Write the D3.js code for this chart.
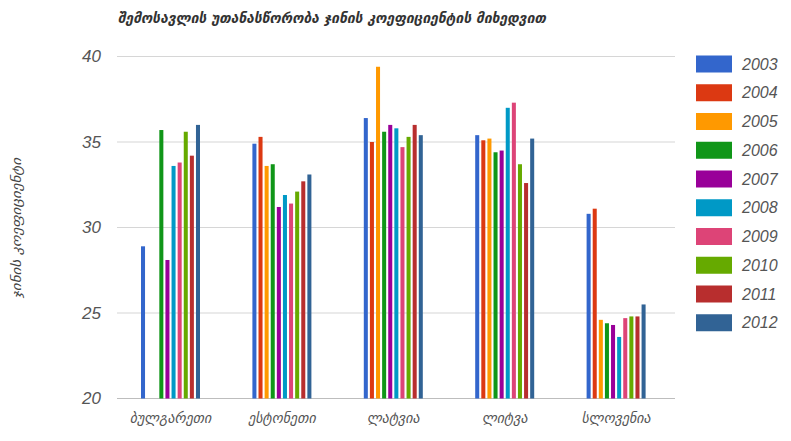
<!DOCTYPE html>
<html>
<head>
<meta charset="utf-8">
<script src="https://cdn.jsdelivr.net/npm/d3@7"></script>
<style>
  html, body { margin: 0; padding: 0; background: #fff; }
  svg { display: block; }
</style>
</head>
<body>
<svg id="chart" width="791" height="441"></svg>
<script>
// ---- data ----
const title = "შემოსავლის უთანასწორობა ჯინის კოეფიციენტის მიხედვით";
const yTitle = "ჯინის კოეფიციენტი";
const categories = ["ბულგარეთი", "ესტონეთი", "ლატვია", "ლიტვა", "სლოვენია"];
const years = ["2003", "2004", "2005", "2006", "2007", "2008", "2009", "2010", "2011", "2012"];
const colors = ["#3366cc", "#dc3912", "#ff9900", "#109618", "#990099", "#0099c6", "#dd4477", "#66aa00", "#b82e2e", "#316395"];
const yTicks = [20, 25, 30, 35, 40];
// values per category, one per year (null = no data)
const bulgaria  = [28.9, null, null, 35.7, 28.1, 33.6, 33.8, 35.6, 34.2, 36.0];
const estonia   = [34.9, 35.3, 33.6, 33.7, 31.2, 31.9, 31.4, 32.1, 32.7, 33.1];
const latvia    = [36.4, 35.0, 39.4, 35.6, 36.0, 35.8, 34.7, 35.3, 36.0, 35.4];
const lithuania = [35.4, 35.1, 35.2, 34.4, 34.5, 37.0, 37.3, 33.7, 32.6, 35.2];
const slovenia  = [30.8, 31.1, 24.6, 24.4, 24.3, 23.6, 24.7, 24.8, 24.8, 25.5];
const values = [bulgaria, estonia, latvia, lithuania, slovenia];

// ---- chart ----
const svg = d3.select("#chart");
const geoFont = "'DejaVu Sans', 'Noto Sans', sans-serif";
const numFont = "'Liberation Sans', Arial, sans-serif";

const groupW = 59;
const x0 = d3.scaleBand().domain(categories).range([114.8, 671.8]).padding(0);
const x1 = d3.scaleBand().domain(years).range([0, groupW]).paddingInner(0.34).paddingOuter(0);
const y = d3.scaleLinear().domain([20, 40]).range([398.5, 56.5]);

// gridlines
svg.append("g").selectAll("line").data(yTicks).join("line")
  .attr("x1", 117).attr("x2", 675)
  .attr("y1", d => y(d)).attr("y2", d => y(d))
  .attr("stroke", d => d === 20 ? "#bdbdbd" : "#d6d6d6").attr("stroke-width", 1.2);

// y-axis tick labels
const yAxis = d3.axisLeft(y).tickValues(yTicks).tickSize(0).tickPadding(0);
const gy = svg.append("g").attr("transform", "translate(101,0)").call(yAxis);
gy.select(".domain").remove();
gy.selectAll("text")
  .attr("font-family", numFont).attr("font-size", 17).attr("font-style", "italic")
  .attr("fill", "#555").attr("dy", "0.32em");

// bars
const groups = svg.append("g").selectAll("g").data(categories).join("g")
  .attr("transform", d => `translate(${x0(d) + (x0.bandwidth() - groupW) / 2},0)`);
groups.selectAll("rect")
  .data((c, ci) => years.map((yr, i) => ({ yr, i, v: values[ci][i] })).filter(d => d.v != null))
  .join("rect")
  .attr("x", d => x1(d.yr))
  .attr("width", x1.bandwidth())
  .attr("y", d => y(d.v))
  .attr("height", d => y(20) - y(d.v))
  .attr("fill", d => colors[d.i]);

// x-axis category labels
const xAxis = d3.axisBottom(x0).tickSize(0).tickPadding(0);
const gx = svg.append("g").attr("transform", "translate(0,410)").call(xAxis);
gx.select(".domain").remove();
gx.selectAll("text")
  .attr("font-family", geoFont).attr("font-size", 14).attr("font-style", "italic")
  .attr("fill", "#555").attr("dy", "0.9em");

// title
svg.append("text")
  .attr("x", 118).attr("y", 23)
  .attr("font-family", geoFont).attr("font-size", 14).attr("font-style", "italic")
  .attr("font-weight", "bold").attr("fill", "#333")
  .attr("textLength", 428).attr("lengthAdjust", "spacingAndGlyphs")
  .text(title);

// y-axis title
svg.append("text")
  .attr("transform", "translate(21,228) rotate(-90)")
  .attr("text-anchor", "middle")
  .attr("font-family", geoFont).attr("font-size", 12).attr("font-style", "italic")
  .attr("fill", "#444")
  .attr("textLength", 140).attr("lengthAdjust", "spacingAndGlyphs")
  .text(yTitle);

// legend
const legend = svg.append("g").selectAll("g").data(years).join("g")
  .attr("transform", (d, i) => `translate(696,${64 + i * 28.75})`);
legend.append("rect")
  .attr("x", 0).attr("y", -8.5).attr("width", 36).attr("height", 17)
  .attr("fill", (d, i) => colors[i]);
legend.append("text")
  .attr("x", 46).attr("dy", "0.35em")
  .attr("font-family", numFont).attr("font-size", 16).attr("font-style", "italic")
  .attr("fill", "#555")
  .text(d => d);
</script>
</body>
</html>
